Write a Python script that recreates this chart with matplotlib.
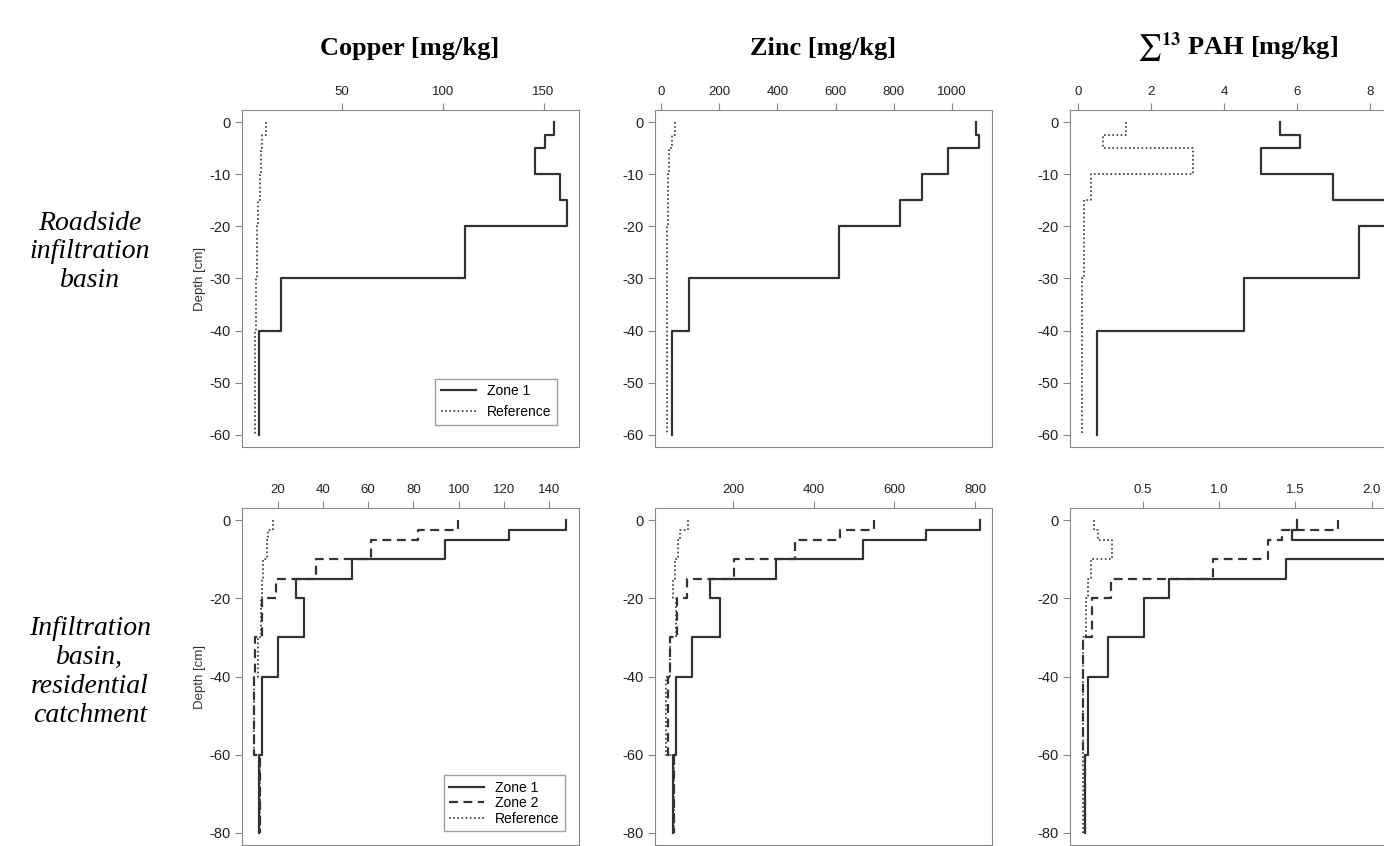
import numpy as np
import matplotlib
matplotlib.use('Agg')
import matplotlib.pyplot as plt

plt.rcParams['font.family'] = ['Liberation Sans', 'DejaVu Sans']
plt.rcParams['mathtext.fontset'] = 'stix'
plt.rcParams['axes.unicode_minus'] = False

# layer boundaries (cm)
top_depths = [0, -2.5, -5, -10, -15, -20, -30, -40, -60]
bot_depths = [0, -2.5, -5, -10, -15, -20, -30, -40, -60, -80]

# roadside infiltration basin (zone 1 + reference)
cu_top_z1 = [155, 150.7, 145.8, 158, 161.5, 110.8, 19.6, 9.0]
cu_top_ref = [12.3, 10.5, 9.6, 9.2, 8.5, 7.8, 7.4, 6.9]
zn_top_z1 = [1083, 1094, 987, 898, 822, 611, 98, 38]
zn_top_ref = [50, 40, 30, 25, 24, 23, 22, 21]
pah_top_z1 = [5.52, 6.07, 4.99, 6.98, 8.8, 7.69, 4.54, 0.52]
pah_top_ref = [1.30, 0.68, 3.15, 0.35, 0.14, 0.14, 0.10, 0.10]

# infiltration basin, residential catchment
cu_bot_z1 = [147.6, 122.3, 94, 53, 27.9, 31.6, 20.3, 13.1, 11.9]
cu_bot_z2 = [99.9, 81.8, 61.2, 37.0, 19.2, 13.1, 10.1, 9.7, 12.3]
cu_bot_ref = [18, 15.7, 15.2, 13.7, 12.9, 12.7, 11.4, 9.3, 12]
zn_bot_z1 = [811, 677, 523, 307, 143, 166, 97, 58, 50]
zn_bot_z2 = [549, 465, 352, 202, 86, 61, 43, 39, 53]
zn_bot_ref = [88, 67, 62, 54, 50, 58, 43, 33, 52]
pah_bot_z1 = [1.51, 1.48, 2.2, 1.44, 0.67, 0.51, 0.27, 0.14, 0.12]
pah_bot_z2 = [1.78, 1.41, 1.32, 0.96, 0.29, 0.17, 0.11, 0.11, 0.12]
pah_bot_ref = [0.18, 0.21, 0.30, 0.16, 0.14, 0.13, 0.11, 0.11, 0.11]

LINE = '#333333'
GRAY = '#888888'


def profile(ax, values, depths, ls, lw=1.6):
    xs = np.repeat(values, 2)
    ys = np.column_stack([depths[:-1], depths[1:]]).ravel()
    ax.plot(xs, ys, color=LINE, linestyle=ls, lw=lw)


def style(ax, xlim, xticks, ylim, yticks, fmt=None):
    ax.set_xlim(*xlim)
    ax.set_ylim(*ylim)
    ax.xaxis.tick_top()
    ax.set_xticks(xticks)
    if fmt:
        ax.set_xticklabels([fmt % t for t in xticks])
    ax.set_yticks(yticks)
    ax.tick_params(axis='both', colors=GRAY, labelcolor='#222222', labelsize=9.5,
                   length=5, direction='out')
    ax.tick_params(axis='y', labelsize=10.5)
    for s in ax.spines.values():
        s.set_color(GRAY)


fig = plt.figure(figsize=(13.84, 8.46), dpi=100)
W, H = 1384, 846


def add_ax(left, top, w=337, h=337):
    return fig.add_axes([left / W, (H - top - h) / H, w / W, h / H])


dotted = (0, (1, 1.5))
dashed = (0, (4, 2.5))

# top row
ax = add_ax(242, 110)
profile(ax, cu_top_z1, top_depths, '-')
profile(ax, cu_top_ref, top_depths, dotted, 1.2)
style(ax, (0.4, 167.6), [50, 100, 150], (-62.4, 2.4), range(0, -61, -10))
ax.set_ylabel('Depth [cm]', fontsize=9.5, color='#333333', labelpad=2)
lg = ax.legend(['Zone 1', 'Reference'], loc='lower right', fontsize=10,
               fancybox=False, edgecolor=GRAY, borderaxespad=1.6, handlelength=2.5)
lg.get_frame().set_linewidth(1.0)

ax = add_ax(655, 110)
profile(ax, zn_top_z1, top_depths, '-')
profile(ax, zn_top_ref, top_depths, dotted, 1.2)
style(ax, (-19.6, 1137), range(0, 1001, 200), (-62.4, 2.4), range(0, -61, -10))

ax = add_ax(1070, 110)
profile(ax, pah_top_z1, top_depths, '-')
profile(ax, pah_top_ref, top_depths, dotted, 1.2)
style(ax, (-0.23, 9.0), range(0, 9, 2), (-62.4, 2.4), range(0, -61, -10))

# bottom row
ax = add_ax(242, 508)
profile(ax, cu_bot_z1, bot_depths, '-')
profile(ax, cu_bot_z2, bot_depths, dashed)
profile(ax, cu_bot_ref, bot_depths, dotted, 1.2)
style(ax, (4.2, 153.2), range(20, 141, 20), (-83.2, 3.2), range(0, -81, -20))
ax.set_ylabel('Depth [cm]', fontsize=9.5, color='#333333', labelpad=2)
lg = ax.legend(['Zone 1', 'Zone 2', 'Reference'], loc='lower right', fontsize=10,
               fancybox=False, edgecolor=GRAY, borderaxespad=1.0, handlelength=2.5,
               labelspacing=0.1)
lg.get_frame().set_linewidth(1.0)

ax = add_ax(655, 508)
profile(ax, zn_bot_z1, bot_depths, '-')
profile(ax, zn_bot_z2, bot_depths, dashed)
profile(ax, zn_bot_ref, bot_depths, dotted, 1.2)
style(ax, (5.6, 842), range(200, 801, 200), (-83.2, 3.2), range(0, -81, -20))

ax = add_ax(1070, 508)
profile(ax, pah_bot_z1, bot_depths, '-')
profile(ax, pah_bot_z2, bot_depths, dashed)
profile(ax, pah_bot_ref, bot_depths, dotted, 1.2)
style(ax, (0.024, 2.23), [0.5, 1.0, 1.5, 2.0], (-83.2, 3.2), range(0, -81, -20), '%.1f')

# column titles and row labels
serif = ['Liberation Serif', 'DejaVu Serif']
tkw = dict(fontsize=19, fontweight='bold', family=serif, ha='center', va='center')
fig.text(410 / W, 1 - 48 / H, 'Copper [mg/kg]', **tkw)
fig.text(823 / W, 1 - 48 / H, 'Zinc [mg/kg]', **tkw)
fig.text(1238 / W, 1 - 48 / H, r'${\sum}^{\mathbf{13}}$' + ' PAH [mg/kg]', **tkw)

rkw = dict(fontsize=20, fontstyle='italic', family=serif, ha='center', va='center',
           linespacing=1.2)
fig.text(90 / W, 1 - 252 / H, 'Roadside\ninfiltration\nbasin', **rkw)
fig.text(90 / W, 1 - 672 / H, 'Infiltration\nbasin,\nresidential\ncatchment', **rkw)

fig.savefig('out.png', dpi=100)
